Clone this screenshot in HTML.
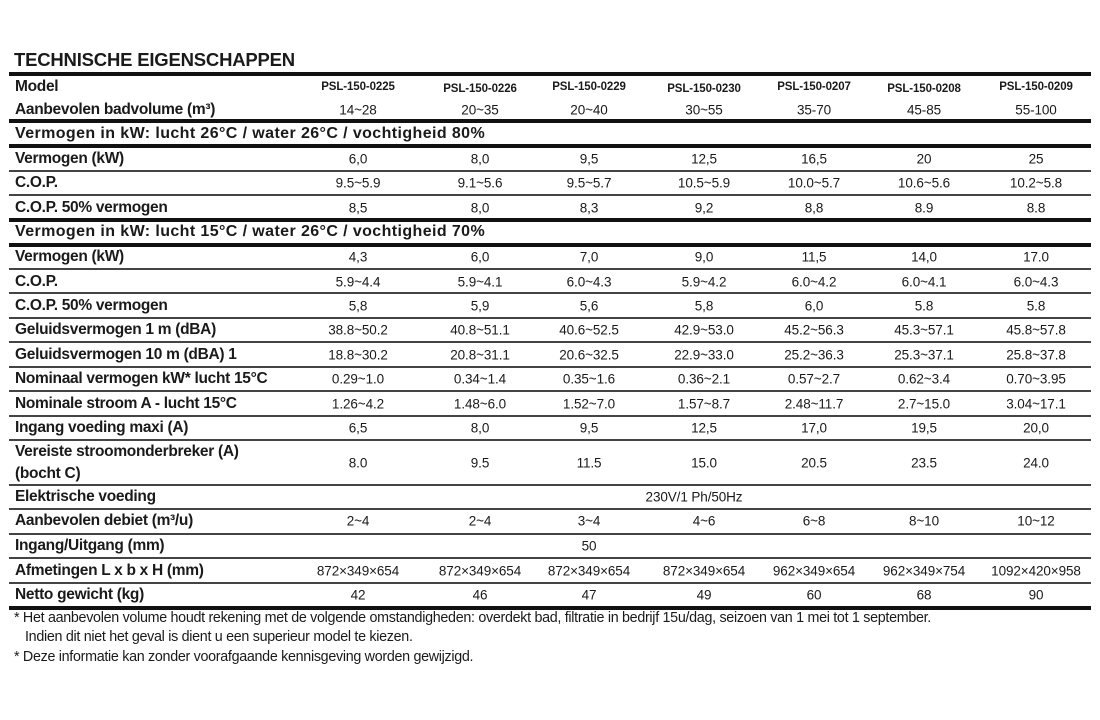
<!DOCTYPE html>
<html><head><meta charset="utf-8"><style>
body{margin:0;width:1100px;height:720px;background:#fff;position:relative;overflow:hidden;font-family:"Liberation Sans",sans-serif;color:#1a1a1a}
.t{position:absolute;white-space:nowrap}
.l{position:absolute;left:15px;font-weight:bold;font-size:15.5px;letter-spacing:-0.3px;transform:translateY(-50%);white-space:nowrap}
.s{letter-spacing:0.4px;font-size:16px}
.v{position:absolute;font-size:13.5px;transform:translate(-50%,-50%);letter-spacing:-0.1px;white-space:nowrap}
.m{font-weight:bold;font-size:11.5px}
.hr{position:absolute;left:9px;width:1082px;background:#111}
.thick{height:4px}
.thin{height:1.5px;background:#444}
.f{position:absolute;left:14px;font-size:14.3px;letter-spacing:-0.3px;white-space:nowrap}
</style></head><body>
<div class="t" style="left:14px;top:49px;font-weight:bold;font-size:18.5px;letter-spacing:-0.2px">TECHNISCHE EIGENSCHAPPEN</div>
<div class="hr thick" style="top:72px"></div>
<div class="hr thick" style="top:119px"></div>
<div class="hr thick" style="top:144px"></div>
<div class="hr thin" style="top:170px"></div>
<div class="hr thin" style="top:194px"></div>
<div class="hr thick" style="top:218px"></div>
<div class="hr thick" style="top:243px"></div>
<div class="hr thin" style="top:268px"></div>
<div class="hr thin" style="top:292px"></div>
<div class="hr thin" style="top:317px"></div>
<div class="hr thin" style="top:341px"></div>
<div class="hr thin" style="top:366px"></div>
<div class="hr thin" style="top:390px"></div>
<div class="hr thin" style="top:415px"></div>
<div class="hr thin" style="top:439px"></div>
<div class="hr thin" style="top:484px"></div>
<div class="hr thin" style="top:508px"></div>
<div class="hr thin" style="top:533px"></div>
<div class="hr thin" style="top:557px"></div>
<div class="hr thin" style="top:582px"></div>
<div class="hr thick" style="top:606px"></div>

<div id="rows"></div>
<script>
const cx=[358,480,589,704,814,924,1036];
const rows=[
[87,"Model",["PSL-150-0225","PSL-150-0226","PSL-150-0229","PSL-150-0230","PSL-150-0207","PSL-150-0208","PSL-150-0209"],1],
[110,"Aanbevolen badvolume (m³)",["14~28","20~35","20~40","30~55","35-70","45-85","55-100"]],
[134,"Vermogen in kW: lucht 26°C / water 26°C / vochtigheid 80%",[],0,1],
[159,"Vermogen (kW)",["6,0","8,0","9,5","12,5","16,5","20","25"]],
[183,"C.O.P.",["9.5~5.9","9.1~5.6","9.5~5.7","10.5~5.9","10.0~5.7","10.6~5.6","10.2~5.8"]],
[208,"C.O.P. 50% vermogen",["8,5","8,0","8,3","9,2","8,8","8.9","8.8"]],
[232,"Vermogen in kW: lucht 15°C / water 26°C / vochtigheid 70%",[],0,1],
[257,"Vermogen (kW)",["4,3","6,0","7,0","9,0","11,5","14,0","17.0"]],
[282,"C.O.P.",["5.9~4.4","5.9~4.1","6.0~4.3","5.9~4.2","6.0~4.2","6.0~4.1","6.0~4.3"]],
[306,"C.O.P. 50% vermogen",["5,8","5,9","5,6","5,8","6,0","5.8","5.8"]],
[330,"Geluidsvermogen 1 m (dBA)",["38.8~50.2","40.8~51.1","40.6~52.5","42.9~53.0","45.2~56.3","45.3~57.1","45.8~57.8"]],
[355,"Geluidsvermogen 10 m (dBA) 1",["18.8~30.2","20.8~31.1","20.6~32.5","22.9~33.0","25.2~36.3","25.3~37.1","25.8~37.8"]],
[379,"Nominaal vermogen kW* lucht 15°C",["0.29~1.0","0.34~1.4","0.35~1.6","0.36~2.1","0.57~2.7","0.62~3.4","0.70~3.95"]],
[404,"Nominale stroom A - lucht 15°C",["1.26~4.2","1.48~6.0","1.52~7.0","1.57~8.7","2.48~11.7","2.7~15.0","3.04~17.1"]],
[428,"Ingang voeding maxi (A)",["6,5","8,0","9,5","12,5","17,0","19,5","20,0"]],
[452,"Vereiste stroomonderbreker (A)",[]],
[474,"(bocht C)",[]],
[463,"",["8.0","9.5","11.5","15.0","20.5","23.5","24.0"]],
[497,"Elektrische voeding",[]],
[521,"Aanbevolen debiet (m³/u)",["2~4","2~4","3~4","4~6","6~8","8~10","10~12"]],
[546,"Ingang/Uitgang (mm)",[]],
[571,"Afmetingen L x b x H (mm)",["872×349×654","872×349×654","872×349×654","872×349×654","962×349×654","962×349×754","1092×420×958"]],
[595,"Netto gewicht (kg)",["42","46","47","49","60","68","90"]],
];
let h="";
for(const [y,l,v,m,s] of rows){
 if(l) h+=`<div class="l${s?' s':''}" style="top:${y}px">${l}</div>`;
 v.forEach((t,i)=>h+=`<div class="v${m?' m':''}" style="left:${cx[i]}px;top:${y+(m&&i%2?2:0)}px">${t}</div>`);
}
h+=`<div class="v" style="left:694px;top:497px">230V/1 Ph/50Hz</div>`;
h+=`<div class="v" style="left:589px;top:546px">50</div>`;
document.getElementById("rows").innerHTML=h;
</script>
<div class="f" style="top:610px">* Het aanbevolen volume houdt rekening met de volgende omstandigheden: overdekt bad, filtratie in bedrijf 15u/dag, seizoen van 1 mei tot 1 september.</div>
<div class="f" style="top:629px;left:25px">Indien dit niet het geval is dient u een superieur model te kiezen.</div>
<div class="f" style="top:649px">* Deze informatie kan zonder voorafgaande kennisgeving worden gewijzigd.</div>
</body></html>
